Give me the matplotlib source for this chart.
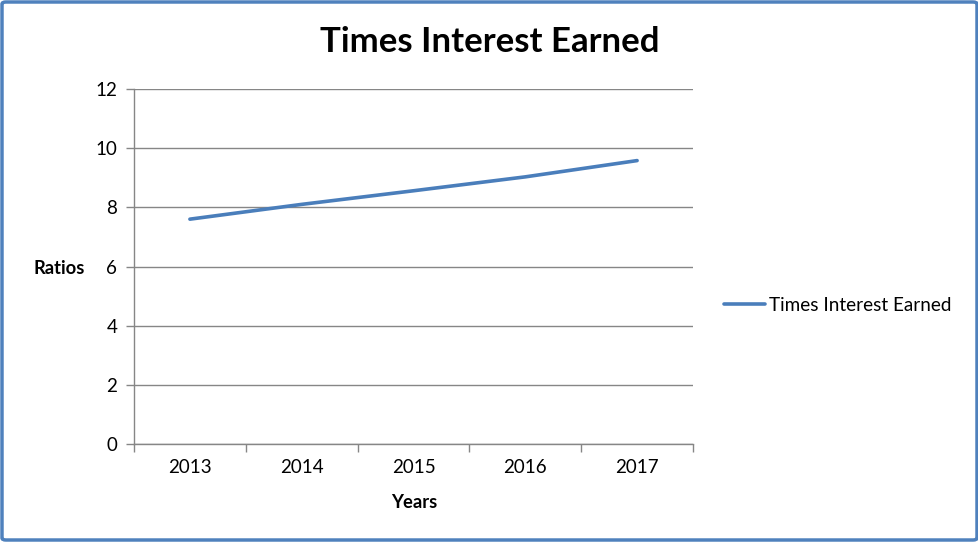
import matplotlib
matplotlib.use("Agg")
import matplotlib.pyplot as plt
from matplotlib.patches import FancyBboxPatch
import numpy as np

years = ["2013", "2014", "2015", "2016", "2017"]
values = [7.6, 8.1, 8.56, 9.03, 9.58]
series_name = "Times Interest Earned"
title = "Times Interest Earned"

W, H = 979, 542
fig = plt.figure(figsize=(W / 100, H / 100), dpi=100)
plt.rcParams['font.family'] = ['Lato', 'DejaVu Sans']

ax = fig.add_axes([134 / W, 1 - 444 / H, (693 - 134) / W, (444 - 89) / H])
x = np.arange(len(years))
ax.plot(x, values, color="#4a7ebb", lw=2.6, solid_capstyle="round", label=series_name)

ax.set_xlim(-0.5, len(years) - 0.5)
ax.set_ylim(0, 12)
ax.set_yticks(range(0, 13, 2))
ax.set_xticks(x)
ax.set_xticklabels(years)
ax.set_xticks(np.arange(-0.5, len(years), 1.0), minor=True)
ax.tick_params(axis="x", which="major", length=0, pad=11, labelsize=13.5, colors="#000000")
ax.tick_params(axis="x", which="minor", length=6, width=1, color="#868686", direction="out")
ax.tick_params(axis="y", length=6, width=1, color="#868686", labelsize=13.5, pad=6)
ax.grid(axis="y", color="#868686", lw=1)
ax.set_axisbelow(True)
for s in ["top", "right"]:
    ax.spines[s].set_visible(False)
for s in ["left", "bottom"]:
    ax.spines[s].set_color("#868686")
    ax.spines[s].set_linewidth(1)

fig.text(414 / W, 1 - 502 / H, "Years", ha="center", va="center", fontsize=13.2, fontweight="bold")
fig.text(59 / W, 1 - 268 / H, "Ratios", ha="center", va="center", fontsize=13.2, fontweight="bold")
fig.text(490 / W, 1 - 42 / H, title, ha="center", va="center", fontsize=25, fontweight="bold")

leg = ax.legend(loc="center left", bbox_to_anchor=(716 / W, 1 - 305 / H), bbox_transform=fig.transFigure,
                frameon=False, fontsize=13.6, handlelength=2.2, handletextpad=0.2, borderaxespad=0)

border = FancyBboxPatch((2 / W, 2 / H), 1 - 4 / W, 1 - 4 / H, boxstyle="round,pad=0,rounding_size=0.004",
                        transform=fig.transFigure, fill=False, edgecolor="#4f81bd", lw=2.5)
fig.patches.append(border)

fig.savefig("out.png", dpi=100)
